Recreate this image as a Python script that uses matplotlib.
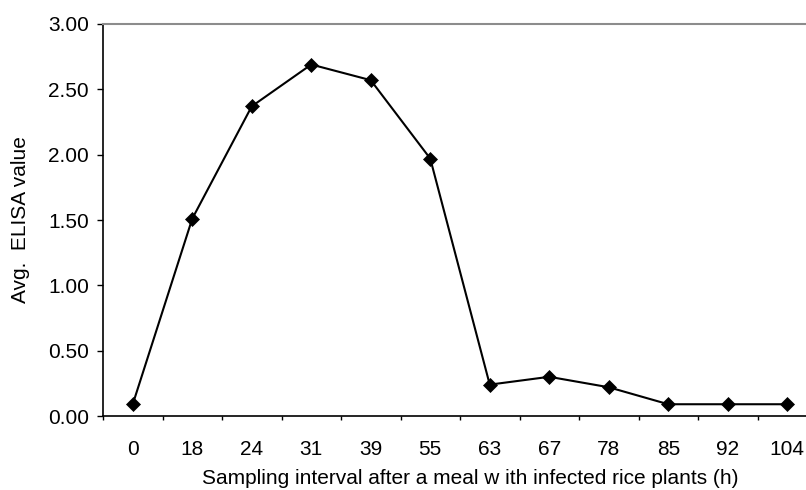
import matplotlib
matplotlib.use("Agg")
import matplotlib.pyplot as plt
import numpy as np

categories = ["0", "18", "24", "31", "39", "55", "63", "67", "78", "85", "92", "104"]
elisa = [0.09, 1.51, 2.37, 2.69, 2.57, 1.97, 0.24, 0.30, 0.22, 0.09, 0.09, 0.09]
yticks = [0.0, 0.5, 1.0, 1.5, 2.0, 2.5, 3.0]

plt.rcParams['font.family'] = ['Liberation Sans', 'DejaVu Sans']

W, H = 806, 490
fig = plt.figure(figsize=(W / 100, H / 100), dpi=100)
left, right, top, bottom = 103, 817, 24, 416
ax = fig.add_axes([left / W, 1 - bottom / H, (right - left) / W, (bottom - top) / H])

x = np.arange(len(categories))
ax.plot(x, elisa, color='black', lw=1.5, marker='D', ms=6.8, mfc='black', mec='black', mew=0.5,
        clip_on=False)

ax.set_xlim(-0.5, len(categories) - 0.5)
ax.set_ylim(0, 3.0)
ax.set_yticks(yticks)
ax.set_yticklabels([f"{v:.2f}" for v in yticks])
ax.set_xticks(x)
ax.set_xticklabels(categories)
ax.set_xticks(np.arange(len(categories) + 1) - 0.5, minor=True)

ax.tick_params(axis='x', which='major', length=0, pad=17, labelsize=15)
ax.tick_params(axis='x', which='minor', length=3, width=1, direction='out', color='black')
ax.tick_params(axis='y', which='major', length=4.5, width=1, direction='out', pad=5.5, labelsize=15)

ax.spines['right'].set_visible(False)
ax.spines['top'].set_color('#8c8c8c')
ax.spines['top'].set_linewidth(1.5)
ax.spines['left'].set_linewidth(1.2)
ax.spines['bottom'].set_linewidth(1.2)

fig.text(470 / W, 1 - 478 / H, "Sampling interval after a meal w ith infected rice plants (h)",
         ha='center', va='center', fontsize=15)
fig.text(21 / W, 1 - 220 / H, "Avg.  ELISA value", rotation=90,
         ha='center', va='center', fontsize=15)

fig.savefig("out.png", dpi=100)
